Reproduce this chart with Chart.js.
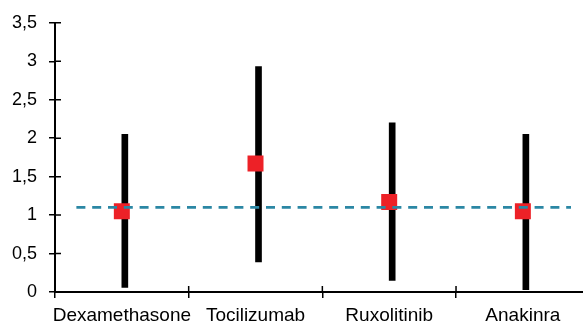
<!DOCTYPE html>
<html>
<head>
<meta charset="utf-8">
<script src="https://cdn.jsdelivr.net/npm/chart.js@4/dist/chart.umd.min.js"></script>
<style>
  html, body { margin: 0; padding: 0; background: #fff; overflow: hidden; }
  #wrap { width: 583px; height: 324px; overflow: hidden; position: relative; }
  #c { position: absolute; left: 0; top: 0; }
</style>
</head>
<body>
<div id="wrap"><canvas id="c" width="601" height="324"></canvas></div>
<script>
// Treatments and their estimates with interval bounds
const treatments = ['Dexamethasone', 'Tocilizumab', 'Ruxolitinib', 'Anakinra'];
const estimates  = [1.05, 1.67, 1.17, 1.05];
const lowerBound = [0.06, 0.39, 0.15, 0.03];
const upperBound = [2.05, 2.93, 2.20, 2.05];

// Horizontal reference level and its horizontal extent (in category units)
const referenceLevel = 1.1;
const referenceSpan  = [-0.34, 3.36];

// Y axis range and step
const yMin = 0, yMax = 3.5, yStep = 0.5;

const FONT = "'Liberation Sans', Arial, sans-serif";

// Tick marks that cross the axis lines (inner half)
const crossTicks = {
  id: 'crossTicks',
  beforeDatasetsDraw(chart) {
    const { ctx, scales } = chart;
    const x = scales.x, y = scales.y;
    ctx.save();
    ctx.strokeStyle = '#000';
    ctx.lineWidth = 1.5;
    ctx.beginPath();
    y.ticks.forEach((t, i) => {
      const py = y.getPixelForTick(i);
      ctx.moveTo(y.right, py);
      ctx.lineTo(y.right + 6, py);
    });
    for (let i = 0; i <= treatments.length; i++) {
      const px = x.getPixelForValue(i - 0.5);
      ctx.moveTo(px, x.top);
      ctx.lineTo(px, x.top - 6);
    }
    ctx.stroke();
    ctx.restore();
  }
};

new Chart(document.getElementById('c'), {
  data: {
    labels: treatments,
    datasets: [
      {
        type: 'line',
        xAxisID: 'xl',
        data: referenceSpan.map(v => ({ x: v, y: referenceLevel })),
        borderColor: '#2b87a4',
        borderWidth: 2.7,
        borderDash: [9, 6.8],
        pointRadius: 0,
        fill: false,
        order: 0
      },
      {
        type: 'line',
        data: estimates,
        showLine: false,
        pointStyle: 'rect',
        pointRadius: 11.3,
        pointHoverRadius: 11.3,
        pointBackgroundColor: '#ed2127',
        pointBorderWidth: 0,
        order: 1
      },
      {
        type: 'bar',
        data: treatments.map((_, i) => [lowerBound[i], upperBound[i]]),
        backgroundColor: '#000',
        barThickness: 6,
        borderSkipped: false,
        order: 2
      }
    ]
  },
  options: {
    responsive: false,
    animation: false,
    devicePixelRatio: 1,
    layout: { padding: { top: 21, right: 0, left: 0, bottom: 0 } },
    plugins: { legend: { display: false }, tooltip: { enabled: false } },
    scales: {
      x: {
        type: 'category',
        offset: true,
        grid: { display: true, offset: true, drawOnChartArea: false, tickLength: 6, color: '#000', lineWidth: 1.5 },
        border: { color: '#000', width: 2 },
        ticks: { color: '#000', font: { family: FONT, size: 19 }, padding: 6, maxRotation: 0, autoSkip: false },
        afterFit(s) { s.height = 32; }
      },
      xl: {
        type: 'linear',
        display: false,
        min: -0.5,
        max: treatments.length - 0.5
      },
      y: {
        min: yMin,
        max: yMax,
        grid: { display: true, drawOnChartArea: false, tickLength: 6, color: '#000', lineWidth: 1.5 },
        border: { color: '#000', width: 2 },
        ticks: {
          stepSize: yStep,
          color: '#000',
          padding: 12,
          font: { family: FONT, size: 18 },
          callback: v => String(v).replace('.', ',')
        },
        afterFit(s) { s.width = 55; }
      }
    }
  },
  plugins: [crossTicks]
});
</script>
</body>
</html>
